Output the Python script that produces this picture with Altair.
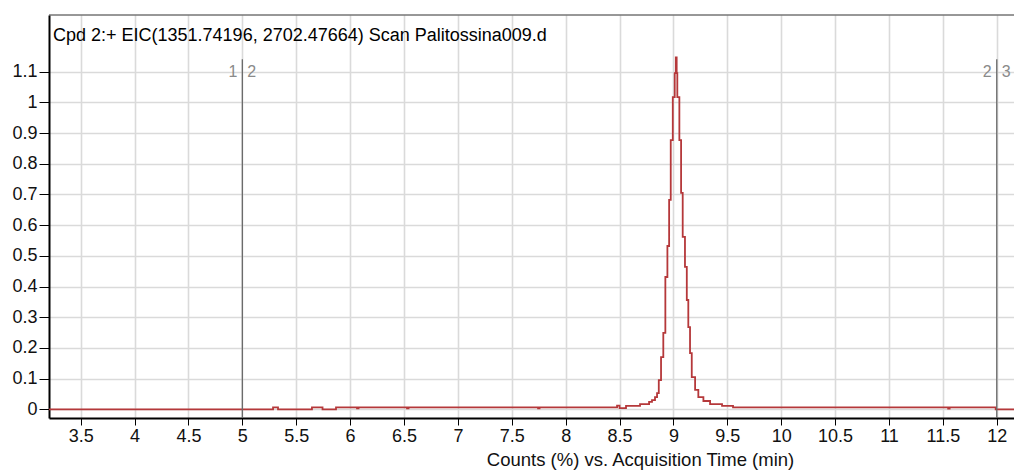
import altair as alt
import pandas as pd

# ---- chart text -------------------------------------------------------------
TRACE_TITLE = "Cpd 2:+ EIC(1351.74196, 2702.47664) Scan Palitossina009.d"
X_TITLE = "Counts (%) vs. Acquisition Time (min)"

# ---- EIC trace (acquisition time in min, relative counts) -------------------
times = [
    3.20, 5.285, 5.331, 5.646, 5.744, 5.869, 6.064, 6.078, 6.528, 6.542,
    7.744, 7.758, 8.477, 8.500, 8.560, 8.690, 8.774, 8.801, 8.829, 8.848,
    8.864, 8.885, 8.906, 8.925, 8.944, 8.960, 8.975, 8.994, 9.012, 9.022,
    9.030, 9.036, 9.055, 9.071, 9.086, 9.107, 9.124, 9.138, 9.154, 9.170,
    9.201, 9.231, 9.278, 9.340, 9.451, 9.553, 11.549, 11.563, 11.990, 12.20,
]
counts = [
    0.000, 0.0065, 0.000, 0.0065, 0.000, 0.0065, 0.003, 0.0065, 0.003, 0.0065,
    0.003, 0.0065, 0.012, 0.004, 0.011, 0.017, 0.024, 0.030, 0.040, 0.053,
    0.095, 0.170, 0.249, 0.431, 0.532, 0.682, 0.877, 1.017, 1.095, 1.146,
    1.095, 1.017, 0.877, 0.705, 0.562, 0.464, 0.356, 0.268, 0.183, 0.105,
    0.063, 0.040, 0.027, 0.017, 0.011, 0.0065, 0.002, 0.0065, 0.000, 0.000,
]

# ---- integration window markers --------------------------------------------
marker_times = [5, 12]
marker_left = ["1", "2"]
marker_right = ["2", "3"]

# ---- axes --------------------------------------------------------------------
x_ticks = [3.5, 4, 4.5, 5, 5.5, 6, 6.5, 7, 7.5, 8, 8.5, 9, 9.5, 10, 10.5, 11, 11.5, 12]
y_ticks = [0, 0.1, 0.2, 0.3, 0.4, 0.5, 0.6, 0.7, 0.8, 0.9, 1, 1.1]

X_DOMAIN = [3.206, 12.16]
Y_DOMAIN = [-0.0283, 1.2844]
MARKER_TOP = 1.14

W, H = 965, 403
FONT = "Liberation Sans"

trace = pd.DataFrame({"t": times, "c": counts})
markers = pd.DataFrame({"t": marker_times, "left": marker_left, "right": marker_right})
caption = pd.DataFrame({"text": [TRACE_TITLE]})

x_scale = alt.Scale(domain=X_DOMAIN, nice=False, zero=False)
y_scale = alt.Scale(domain=Y_DOMAIN, nice=False, zero=False)

# the same axis definitions are given to every layer so that they merge cleanly
x_axis = alt.Axis(
    values=x_ticks, labelExpr="format(datum.value, '~g')", title=X_TITLE,
    grid=True, gridColor="#dadada", gridWidth=1.6,
    domainColor="#000000", domainWidth=2,
    tickColor="#000000", tickSize=7, tickWidth=1,
    labelFont=FONT, labelFontSize=18, labelColor="#111111", labelPadding=2,
    labelOverlap=False, labelFlush=False,
    titleFont=FONT, titleFontSize=18.5, titleFontWeight="normal", titleColor="#111111",
    titleX=591, titleY=47, titleBaseline="alphabetic", titleAlign="center",
)
y_axis = alt.Axis(
    values=y_ticks, labelExpr="format(datum.value, '~g')", title=None,
    grid=True, gridColor="#dadada", gridWidth=1.6,
    domainColor="#000000", domainWidth=2,
    tickColor="#000000", tickSize=10, tickWidth=1,
    labelFont=FONT, labelFontSize=18, labelColor="#111111", labelPadding=2,
    labelOverlap=False, labelFlush=False,
)

X_ENC = alt.X("t:Q", scale=x_scale, axis=x_axis)

line = alt.Chart(trace).mark_line(
    color="#b5383a", strokeWidth=1.8, interpolate="step-after", clip=True
).encode(
    x=X_ENC,
    y=alt.Y("c:Q", scale=y_scale, axis=y_axis),
)

rules = alt.Chart(markers).mark_rule(color="#6a6a6a", strokeWidth=1.3).encode(
    x=X_ENC,
    y=alt.YDatum(MARKER_TOP, scale=y_scale, axis=y_axis),
    y2=alt.Y2Datum(Y_DOMAIN[0]),
)

left_labels = alt.Chart(markers).mark_text(
    align="right", baseline="alphabetic", dx=-5, font=FONT, fontSize=16, color="#8a8a8a"
).encode(x=X_ENC, y=alt.value(62), text="left:N")

right_labels = alt.Chart(markers).mark_text(
    align="left", baseline="alphabetic", dx=5, font=FONT, fontSize=16, color="#8a8a8a"
).encode(x=X_ENC, y=alt.value(62), text="right:N")

# frame line along the top of the plot and the trace caption inside it
top_border = alt.Chart(caption).mark_rule(color="#303030", strokeWidth=1).encode(
    x=alt.value(0), x2=alt.value(W), y=alt.value(0)
)
title_text = alt.Chart(caption).mark_text(
    align="left", baseline="alphabetic", font=FONT, fontSize=18, color="#000000"
).encode(x=alt.value(4), y=alt.value(26), text="text:N")

chart = alt.layer(
    line, rules, left_labels, right_labels, top_border, title_text
).properties(
    width=W, height=H,
    autosize=alt.AutoSizeParams(type="none"),
    padding={"left": 49, "top": 15, "right": 0, "bottom": 52},
    background="#ffffff",
).configure_view(stroke=None)

chart.save("out.html", embed_options={"renderer": "svg", "actions": False})
